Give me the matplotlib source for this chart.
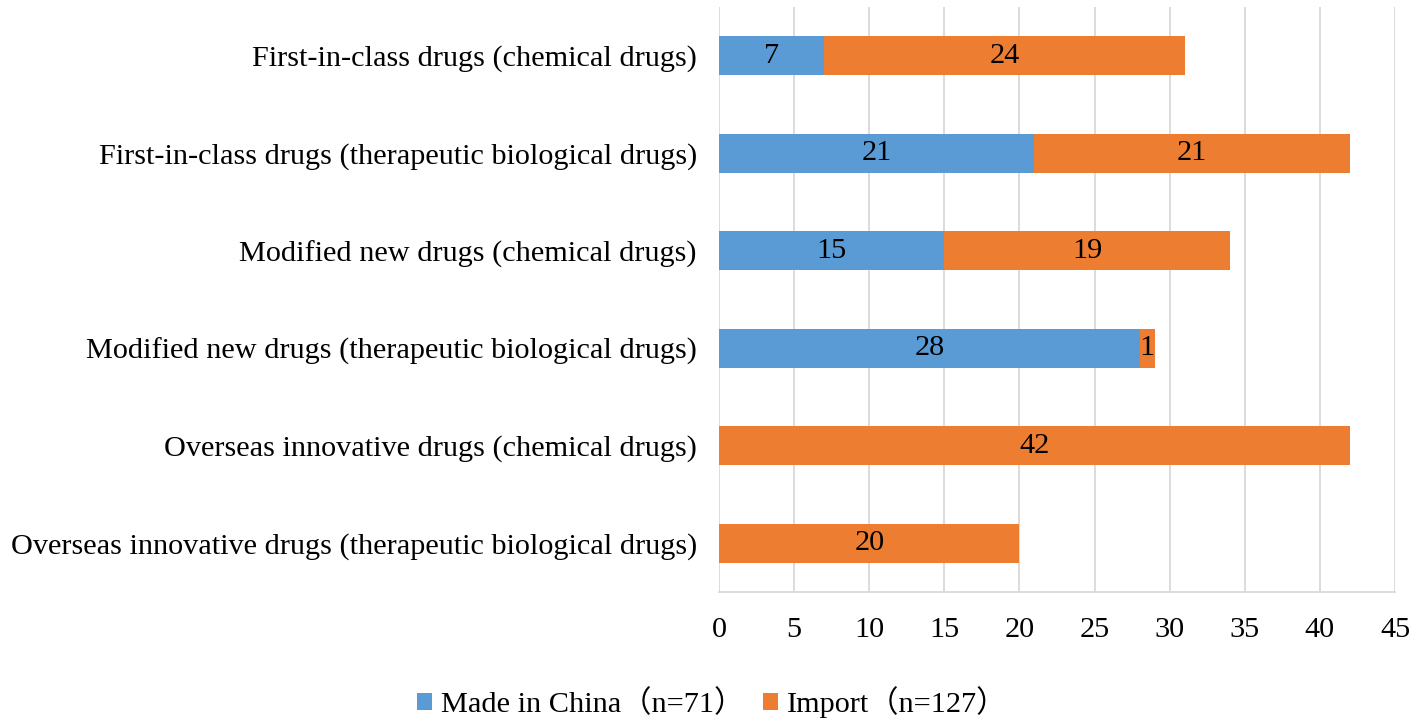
import matplotlib
matplotlib.use("Agg")
import matplotlib.pyplot as plt
import numpy as np

categories = [
    "First-in-class drugs (chemical drugs)",
    "First-in-class drugs (therapeutic biological drugs)",
    "Modified new drugs (chemical drugs)",
    "Modified new drugs (therapeutic biological drugs)",
    "Overseas innovative drugs (chemical drugs)",
    "Overseas innovative drugs (therapeutic biological drugs)",
]
made_in_china = [7, 21, 15, 28, 0, 0]
imported = [24, 21, 19, 1, 42, 20]
series_names = ["Made in China（n=71）", "Import（n=127）"]
xticks = [0, 5, 10, 15, 20, 25, 30, 35, 40, 45]

plt.rcParams['font.family'] = ['Liberation Serif', 'Noto Sans CJK SC']

fig = plt.figure(figsize=(14.17, 7.28), dpi=100)
ax = fig.add_axes([0.5074, 0.1868, 0.9845 - 0.5074, 0.9904 - 0.1868])

blue = "#5B9BD5"
orange = "#ED7D31"
y = np.arange(len(categories))
h = 0.4
b1 = ax.barh(y, made_in_china, height=h, color=blue, label=series_names[0], zorder=3)
b2 = ax.barh(y, imported, height=h, left=made_in_china, color=orange, label=series_names[1], zorder=3)

fs = 21.8
for bars, vals, lefts in ((b1, made_in_china, [0]*len(y)), (b2, imported, made_in_china)):
    for i, v in enumerate(vals):
        if v > 0:
            ax.text(lefts[i] + v / 2, y[i], str(v), ha='center', va='center',
                    fontsize=fs, color='black', zorder=4)

ax.set_ylim(len(categories) - 0.5, -0.5)
ax.set_xlim(0, 45)
ax.set_xticks(xticks)
ax.set_yticks(y)
ax.set_yticklabels(categories)
ax.tick_params(axis='both', length=0, labelsize=fs)
ax.tick_params(axis='x', pad=18)
ax.tick_params(axis='y', pad=16)
ax.grid(axis='x', color='#D9D9D9', linewidth=1.3, zorder=0)
for s in ('top', 'right', 'left'):
    ax.spines[s].set_visible(False)
ax.spines['bottom'].set_color('#D9D9D9')
ax.spines['bottom'].set_linewidth(1.3)

fig.legend(handles=[b1, b2], labels=series_names, loc='center', bbox_to_anchor=(712/1417, 1 - 702/728),
           ncol=2, frameon=False, fontsize=fs, handlelength=0.5, handleheight=0.5,
           handletextpad=0.3, columnspacing=0.6)

fig.savefig("out.png", dpi=100)
